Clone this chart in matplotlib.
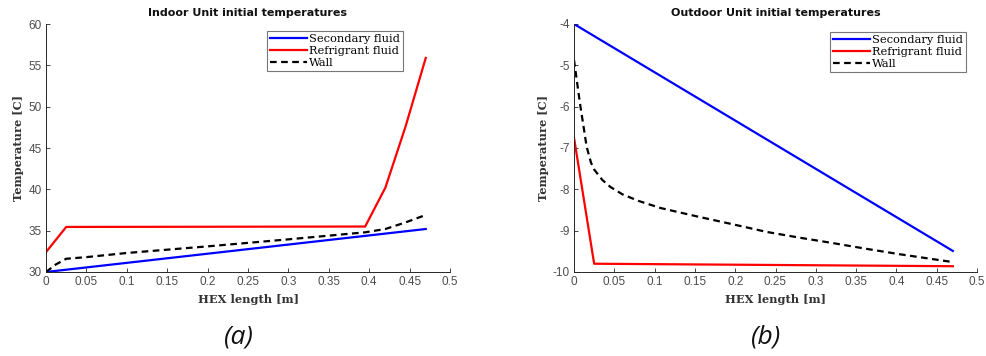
import matplotlib
matplotlib.use("Agg")
import matplotlib.pyplot as plt

plt.rcParams['axes.unicode_minus'] = False

# Indoor unit
in_sec_x = [0.0, 0.47]
in_sec_y = [30.0, 35.2]
in_ref_x = [0.0, 0.025, 0.395, 0.42, 0.445, 0.47]
in_ref_y = [32.4, 35.45, 35.5, 40.2, 47.6, 55.9]
in_wall_x = [0.0, 0.012, 0.025, 0.05, 0.1, 0.2, 0.3, 0.395, 0.42, 0.445, 0.47]
in_wall_y = [30.0, 30.9, 31.6, 31.8, 32.3, 33.1, 33.95, 34.8, 35.2, 36.0, 36.9]

# Outdoor unit
out_sec_x = [0.0, 0.47]
out_sec_y = [-4.0, -9.49]
out_ref_x = [0.0, 0.025, 0.47]
out_ref_y = [-6.75, -9.80, -9.86]
out_wall_x = [0.0, 0.0074, 0.0157, 0.021, 0.025, 0.035, 0.045, 0.06, 0.08, 0.107,
              0.127, 0.156, 0.198, 0.239, 0.28, 0.321, 0.363, 0.404, 0.47]
out_wall_y = [-4.87, -5.92, -6.97, -7.35, -7.52, -7.77, -7.94, -8.12, -8.28, -8.45,
              -8.54, -8.67, -8.85, -9.03, -9.17, -9.30, -9.44, -9.57, -9.76]

labels = ["Secondary fluid", "Refrigrant fluid", "Wall"]
xticks = [0, 0.05, 0.1, 0.15, 0.2, 0.25, 0.3, 0.35, 0.4, 0.45, 0.5]
xticklabels = ["0", "0.05", "0.1", "0.15", "0.2", "0.25", "0.3", "0.35", "0.4", "0.45", "0.5"]

fig = plt.figure(figsize=(9.86, 3.56), dpi=100)
W, H = 986, 356

def make_ax(left_px, right_px, top_px, bottom_px):
    return fig.add_axes([left_px / W, 1 - bottom_px / H,
                         (right_px - left_px) / W, (bottom_px - top_px) / H])

ax1 = make_ax(46, 450, 24, 272)
ax2 = make_ax(574, 977, 24, 272)

tick_font = dict(family='Liberation Sans', size=8.5)

def style(ax, title, ylim, yticks, legend_pos):
    ax.set_xlim(0, 0.5)
    ax.set_ylim(*ylim)
    ax.set_xticks(xticks)
    ax.set_xticklabels(xticklabels, **tick_font)
    ax.set_yticks(yticks)
    ax.set_yticklabels([str(v) for v in yticks], **tick_font)
    ax.tick_params(direction='in', length=3, width=0.6, colors='#262626',
                   labelcolor='#4d4d4d', pad=3)
    for s in ['top', 'right']:
        ax.spines[s].set_visible(False)
    for s in ['left', 'bottom']:
        ax.spines[s].set_linewidth(0.7)
        ax.spines[s].set_color('#262626')
    ax.set_title(title, family='DejaVu Sans', weight='bold', size=8, pad=6,
                 color='#111111')
    ax.set_xlabel("HEX length [m]", family='DejaVu Serif', weight='bold',
                  size=8.2, color='#333333', labelpad=4)
    ax.set_ylabel("Temperature [C]", family='DejaVu Serif', weight='bold',
                  size=8.2, color='#333333', labelpad=3)
    leg = ax.legend(labels, loc='upper left', bbox_to_anchor=legend_pos,
                    prop=dict(family='DejaVu Serif', size=8.2),
                    frameon=True, fancybox=False, handlelength=3.2,
                    handletextpad=0.2, labelspacing=0.15, borderpad=0.3,
                    borderaxespad=0)
    leg.get_frame().set_edgecolor('#555555')
    leg.get_frame().set_linewidth(0.8)

ax1.plot(in_sec_x, in_sec_y, color='#0000ff', lw=1.6)
ax1.plot(in_ref_x, in_ref_y, color='#ff0000', lw=1.6)
ax1.plot(in_wall_x, in_wall_y, color='black', lw=1.6, ls=(0, (3, 2)))
style(ax1, "Indoor Unit initial temperatures", (30, 60), [30, 35, 40, 45, 50, 55, 60],
      ((267 - 46) / 404, 1 - (31 - 24) / 248))

ax2.plot(out_sec_x, out_sec_y, color='#0000ff', lw=1.6)
ax2.plot(out_ref_x, out_ref_y, color='#ff0000', lw=1.6)
ax2.plot(out_wall_x, out_wall_y, color='black', lw=1.6, ls=(0, (3, 2)))
style(ax2, "Outdoor Unit initial temperatures", (-10, -4), [-10, -9, -8, -7, -6, -5, -4],
      ((830 - 574) / 403, 1 - (32 - 24) / 248))

fig.text(239 / W, 1 - 337 / H, "(a)", family='Open Sans', style='italic',
         size=19, ha='center', va='center', color='#111111')
fig.text(766 / W, 1 - 337 / H, "(b)", family='Open Sans', style='italic',
         size=19, ha='center', va='center', color='#111111')

fig.savefig("out.png", dpi=100)
